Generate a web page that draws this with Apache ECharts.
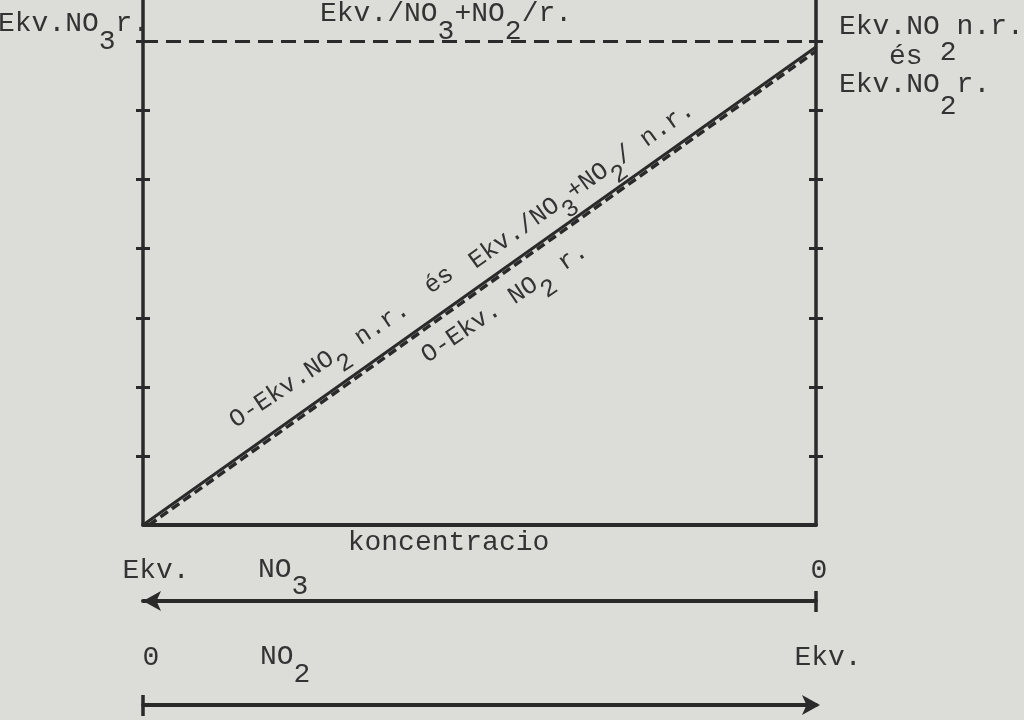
<!DOCTYPE html>
<html><head><meta charset="utf-8">
<script src="https://cdn.jsdelivr.net/npm/echarts@6/dist/echarts.min.js"></script>
<style>html,body{margin:0;padding:0;background:#dcdcd8;}#c{width:1024px;height:720px;}</style>
</head><body><div id="c"></div>
<script>
// ---- data ----
const yMax = 7.6;
const yTicks = [1, 2, 3, 4, 5, 6, 7];
const levelTotal = [[0, 7], [1, 7]];            // Ekv./NO3+NO2/ r. (dashed horizontal)
const lineNonRed = [[0, 0], [1, 6.92]];         // O-Ekv.NO2 n.r. és Ekv./NO3+NO2/ n.r.
const lineRed = [[0.009, 0], [1, 6.86]];        // O-Ekv. NO2 r.
const barEnd = [0];                             // '0' end of the concentration arrows
const arrowLabelValues = [0, 1];
const arrowLabelText = ['0', 'Ekv.'];

// ---- styles ----
const TXT = '#333333';
const LINE = '#2a2a2a';
const FONT = "'Liberation Mono','DejaVu Sans Mono',monospace";

function richStyle(F, shift) {
  const base = {fontFamily: FONT, fontSize: F, fill: TXT, color: TXT, verticalAlign: 'top'};
  return {n: Object.assign({}, base), s: Object.assign({}, base, {padding: [shift, 0, 0, 0]})};
}
function txtStyle(str, F, shift) {
  return {text: str, rich: richStyle(F, shift), fontFamily: FONT, fontSize: F, fill: TXT,
          align: 'left', verticalAlign: 'top', textAlign: 'left', textVerticalAlign: 'top'};
}
function hText(x, baseline, str, F, shift) {
  return {type: 'text', x: x, y: baseline - 0.8 * F, z: 100, style: txtStyle(str, F, shift)};
}
function rText(x, y, deg, str, F, shift) {
  return {type: 'group', x: x, y: y, rotation: deg * Math.PI / 180, z: 100,
          children: [{type: 'text', x: 0, y: -0.8 * F, z: 100, style: txtStyle(str, F, shift)}]};
}

const chart = echarts.init(document.getElementById('c'));

const hidden = {show: false};
function mainY(position, inside, showLine) {
  return {gridIndex: 0, type: 'value', min: 0, max: yMax, position: position,
    axisLine: {show: showLine, onZero: false, lineStyle: {color: LINE, width: 3.5}},
    axisTick: {show: true, inside: inside, customValues: yTicks, length: 7, lineStyle: {color: LINE, width: 3}},
    axisLabel: hidden, splitLine: hidden};
}
function arrowAxis(grid, inverse, symbols, offsets, pads, margin) {
  return {gridIndex: grid, type: 'value', min: 0, max: 1, inverse: inverse, position: 'top',
    axisLine: {show: true, onZero: false, symbol: symbols, symbolSize: [15, 18], symbolOffset: offsets,
               lineStyle: {color: LINE, width: 4}},
    axisTick: {show: true, customValues: barEnd, length: 10, lineStyle: {color: LINE, width: 3.5}},
    axisLabel: {show: true, customValues: arrowLabelValues, margin: margin,
      fontFamily: FONT, fontSize: 28, color: TXT,
      formatter: function (v) { const i = arrowLabelValues.indexOf(v); return i === 0 ? '{z|' + arrowLabelText[0] + '}' : '{e|' + arrowLabelText[1] + '}'; },
      rich: {z: {fontFamily: FONT, fontSize: 28, color: TXT, padding: [0, 0, 0, pads[0]]},
             e: {fontFamily: FONT, fontSize: 28, color: TXT, padding: [0, 0, 0, pads[1]]}}},
    splitLine: hidden};
}
function arrowAxisLow(grid, inverse) {
  return {gridIndex: grid, type: 'value', min: 0, max: 1, inverse: inverse, position: 'bottom',
    axisLine: {show: false, onZero: false},
    axisTick: {show: true, customValues: barEnd, length: 10, lineStyle: {color: LINE, width: 3.5}},
    axisLabel: hidden, splitLine: hidden};
}

const option = {
  backgroundColor: '#dcdcd8',
  animation: false,
  grid: [
    {left: 143, right: 208, top: 0, bottom: 195, outerBoundsMode: 'none'},
    {left: 143, right: 208, top: 601, height: 1, outerBoundsMode: 'none'},
    {left: 143, right: 208, top: 705, height: 1, outerBoundsMode: 'none'}
  ],
  xAxis: [
    {gridIndex: 0, type: 'value', min: 0, max: 1, position: 'bottom',
     axisLine: {show: true, onZero: false, lineStyle: {color: LINE, width: 4}},
     axisTick: hidden, axisLabel: hidden, splitLine: hidden,
     name: 'koncentracio', nameLocation: 'middle', nameGap: 4,
     nameTextStyle: {fontFamily: FONT, fontSize: 28, color: TXT, padding: [0, 62, 0, 0], verticalAlign: 'top'}},
    arrowAxis(1, true, ['arrow', 'none'], [0, 0], [6, 26], 16),
    arrowAxisLow(1, true),
    arrowAxis(2, false, ['none', 'arrow'], [0, 4], [16, 24], 33),
    arrowAxisLow(2, false)
  ],
  yAxis: [
    mainY('left', false, true),
    mainY('left', true, false),
    mainY('right', false, true),
    mainY('right', true, false),
    {gridIndex: 1, type: 'value', min: 0, max: 1, show: false},
    {gridIndex: 2, type: 'value', min: 0, max: 1, show: false}
  ],
  series: [
    {type: 'line', xAxisIndex: 0, yAxisIndex: 0, data: levelTotal, showSymbol: false, silent: true,
     lineStyle: {color: LINE, width: 3, type: [15, 8]}},
    {type: 'line', xAxisIndex: 0, yAxisIndex: 0, data: lineRed, showSymbol: false, silent: true,
     lineStyle: {color: LINE, width: 3.5, type: [9, 5]}},
    {type: 'line', xAxisIndex: 0, yAxisIndex: 0, data: lineNonRed, showSymbol: false, silent: true,
     lineStyle: {color: LINE, width: 3}}
  ],
  graphic: [
    hText(-2, 32, '{n|Ekv.NO}{s|3}{n|r.}', 28, 18),
    hText(320, 22, '{n|Ekv./NO}{s|3}{n|+NO}{s|2}{n|/r.}', 28, 18),
    hText(839, 35, '{n|Ekv.NO}{s|2}{n|n.r.}', 28, 26),
    hText(889, 65, '{n|és}', 28, 0),
    hText(839, 93, '{n|Ekv.NO}{s|2}{n|r.}', 28, 22),
    hText(258, 578, '{n|NO}{s|3}', 28, 17),
    hText(260, 665, '{n|NO}{s|2}', 28, 18),
    rText(236, 429, 33.5, '{n|O-Ekv.NO}{s|2}{n| n.r.}', 25, 13),
    rText(431, 295, 35, '{n|és}', 25, 0),
    rText(476, 270, 35.5, '{n|Ekv./NO}{s|3}{n|+NO}{s|2}{n|/ n.r.}', 25, 13),
    rText(428, 364, 34, '{n|O-Ekv. NO}{s|2}{n| r.}', 25, 13)
  ]
};
chart.setOption(option);
</script></body></html>
